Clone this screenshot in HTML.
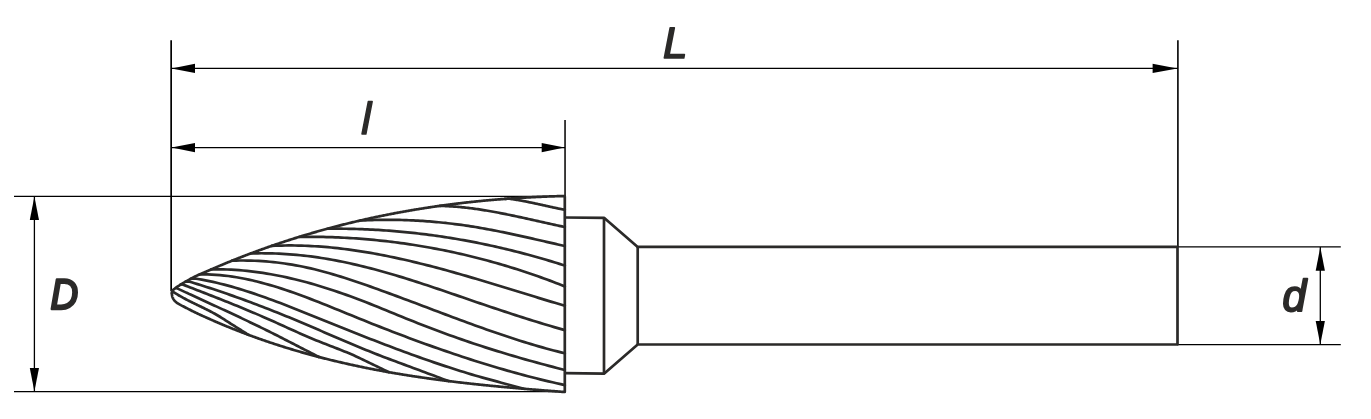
<!DOCTYPE html>
<html><head><meta charset="utf-8"><title>Burr drawing</title>
<style>html,body{margin:0;padding:0;background:#fff;}body{width:1371px;height:419px;overflow:hidden;}svg{display:block;}text{text-rendering:geometricPrecision;}</style>
</head><body>
<svg width="1371" height="419" viewBox="0 0 1371 419">
<line x1="171.15" y1="40.3" x2="171.15" y2="291" stroke="#000" stroke-width="1.7" stroke-linecap="butt"/>
<line x1="565.05" y1="120" x2="565.05" y2="196" stroke="#2b2a29" stroke-width="1.8" stroke-linecap="butt"/>
<line x1="1177.9" y1="40.3" x2="1177.9" y2="247" stroke="#000" stroke-width="1.6" stroke-linecap="butt"/>
<line x1="171" y1="68.4" x2="1177.9" y2="68.4" stroke="#000" stroke-width="1.3" stroke-linecap="butt"/>
<polygon points="171.50,68.40 195.00,63.80 195.00,73.00" fill="#000"/>
<polygon points="1177.40,68.40 1152.60,73.00 1152.60,63.80" fill="#000"/>
<line x1="171" y1="147.6" x2="565" y2="147.6" stroke="#000" stroke-width="1.3" stroke-linecap="butt"/>
<polygon points="171.50,147.60 195.00,143.00 195.00,152.20" fill="#000"/>
<polygon points="564.50,147.60 541.70,152.20 541.70,143.00" fill="#000"/>
<line x1="14" y1="196.3" x2="565" y2="196.3" stroke="#000" stroke-width="1.3" stroke-linecap="butt"/>
<line x1="14" y1="391.7" x2="565" y2="391.7" stroke="#000" stroke-width="1.3" stroke-linecap="butt"/>
<line x1="34.4" y1="196.3" x2="34.4" y2="391.7" stroke="#000" stroke-width="1.3" stroke-linecap="butt"/>
<polygon points="34.40,196.60 39.00,220.10 29.80,220.10" fill="#000"/>
<polygon points="34.40,391.40 29.80,367.90 39.00,367.90" fill="#000"/>
<line x1="1177" y1="246.9" x2="1340.8" y2="246.9" stroke="#000" stroke-width="1.3" stroke-linecap="butt"/>
<line x1="1177" y1="344.7" x2="1340.8" y2="344.7" stroke="#000" stroke-width="1.3" stroke-linecap="butt"/>
<line x1="1320.3" y1="247" x2="1320.3" y2="344.7" stroke="#000" stroke-width="1.3" stroke-linecap="butt"/>
<polygon points="1320.30,247.20 1324.90,270.70 1315.70,270.70" fill="#000"/>
<polygon points="1320.30,344.40 1315.70,320.90 1324.90,320.90" fill="#000"/>
<path d="M564.8,217.5 L604,217.8 L637.7,246.9 L1177.5,246.9 L1177.5,344.5 L637.7,344.5 L604,373.7 L564.8,373.2" fill="none" stroke="#2b2a29" stroke-width="2.7" stroke-linejoin="round" stroke-linecap="butt" />
<path d="M604,217.8 L604,373.7" fill="none" stroke="#2b2a29" stroke-width="2.7" stroke-linejoin="round" stroke-linecap="butt" />
<path d="M637.7,246.9 L637.7,344.5" fill="none" stroke="#2b2a29" stroke-width="2.7" stroke-linejoin="round" stroke-linecap="butt" />
<path d="M564.8,196.3 L564.8,391.9" fill="none" stroke="#2b2a29" stroke-width="2.7" stroke-linejoin="round" stroke-linecap="butt" />
<path d="M171.90,293.30 L171.90,292.78 L171.93,292.26 L171.99,291.74 L172.11,291.24 L172.31,290.79 L172.59,290.39 L172.95,290.03 L173.35,289.70 L173.78,289.39 L174.20,289.08 L174.61,288.77 L175.01,288.46 L175.41,288.15 L175.81,287.84 L176.21,287.54 L176.62,287.24 L177.03,286.95 L177.44,286.66 L177.86,286.37 L178.29,286.09 L178.72,285.81 L179.15,285.54 L179.58,285.27 L180.01,284.99 L180.44,284.72 L180.88,284.46 L181.31,284.19 L181.74,283.92 L182.18,283.66 L182.61,283.40 L183.05,283.13 L183.49,282.87 L183.92,282.61 L184.36,282.36 L184.80,282.10 L185.24,281.84 L185.68,281.59 L186.12,281.33 L186.56,281.08 L187.00,280.83 L187.44,280.58 L187.88,280.33 L188.32,280.08 L188.77,279.83 L189.21,279.58 L189.66,279.34 L190.11,279.09 L190.55,278.85 L191.00,278.61 L191.45,278.37 L191.90,278.14 L192.35,277.90 L192.80,277.67 L193.26,277.44 L193.71,277.21 L194.17,276.98 L194.62,276.76 L195.08,276.53 L195.54,276.31 L196.40,275.90 L197.26,275.50 L198.13,275.10 L199.00,274.71 L199.87,274.32 L200.74,273.94 L201.62,273.55 L202.49,273.17 L203.37,272.80 L204.25,272.42 L205.12,272.04 L206.00,271.66 L206.87,271.29 L207.75,270.91 L208.63,270.53 L209.50,270.15 L210.38,269.77 L211.25,269.39 L212.13,269.01 L213.00,268.63 L213.88,268.25 L214.75,267.87 L215.63,267.50 L216.50,267.12 L217.38,266.75 L218.26,266.37 L219.14,266.00 L220.02,265.63 L220.89,265.26 L221.77,264.89 L222.65,264.52 L223.54,264.16 L224.42,263.79 L225.30,263.43 L226.18,263.07 L227.06,262.71 L227.95,262.35 L228.83,261.99 L229.72,261.63 L230.60,261.27 L231.48,260.92 L232.37,260.56 L233.26,260.21 L234.14,259.85 L235.03,259.50 L235.91,259.15 L236.80,258.80 L237.69,258.45 L238.58,258.10 L239.46,257.75 L240.35,257.40 L241.24,257.06 L242.13,256.71 L243.02,256.37 L243.91,256.02 L244.80,255.68 L245.69,255.34 L246.58,255.00 L247.47,254.66 L248.36,254.32 L249.26,253.99 L250.15,253.65 L251.04,253.32 L251.94,252.98 L252.83,252.65 L253.72,252.32 L254.62,251.99 L255.51,251.66 L256.41,251.33 L257.30,251.00 L258.20,250.67 L259.10,250.34 L259.99,250.02 L260.89,249.70 L261.79,249.37 L262.69,249.05 L263.58,248.73 L264.48,248.41 L265.38,248.09 L266.28,247.77 L267.18,247.46 L268.08,247.14 L268.98,246.82 L269.88,246.51 L270.78,246.20 L271.68,245.89 L272.59,245.57 L273.49,245.26 L274.39,244.96 L275.29,244.65 L276.20,244.34 L277.10,244.03 L278.00,243.73 L278.91,243.43 L279.81,243.12 L280.72,242.82 L281.62,242.52 L282.53,242.22 L283.43,241.92 L284.34,241.62 L285.25,241.33 L286.15,241.03 L287.06,240.74 L287.97,240.44 L288.87,240.15 L289.78,239.86 L290.69,239.57 L291.60,239.28 L292.51,238.99 L293.42,238.70 L294.33,238.41 L295.24,238.13 L296.15,237.84 L297.06,237.56 L297.97,237.28 L298.88,237.00 L299.79,236.71 L300.70,236.44 L301.62,236.16 L302.53,235.88 L303.44,235.60 L304.36,235.33 L305.27,235.05 L306.18,234.78 L307.10,234.51 L308.01,234.23 L308.93,233.96 L309.84,233.69 L310.76,233.43 L311.67,233.16 L312.59,232.89 L313.50,232.63 L314.42,232.36 L315.34,232.10 L316.25,231.84 L317.17,231.57 L318.09,231.31 L319.01,231.05 L319.92,230.80 L320.84,230.54 L321.76,230.28 L322.68,230.03 L323.60,229.77 L324.52,229.52 L325.44,229.27 L326.36,229.02 L327.28,228.76 L328.20,228.52 L329.12,228.27 L330.04,228.02 L330.96,227.77 L331.89,227.53 L332.81,227.28 L333.73,227.04 L334.65,226.80 L335.58,226.56 L336.50,226.32 L337.42,226.08 L338.35,225.84 L339.27,225.60 L340.19,225.37 L341.12,225.13 L342.04,224.90 L342.97,224.66 L343.89,224.43 L344.82,224.20 L345.74,223.97 L346.67,223.74 L347.60,223.51 L348.52,223.29 L349.45,223.06 L350.38,222.83 L351.30,222.61 L352.23,222.39 L353.16,222.16 L354.08,221.94 L355.01,221.72 L355.94,221.50 L356.87,221.29 L357.80,221.07 L358.73,220.85 L359.66,220.64 L360.59,220.42 L361.52,220.21 L362.45,220.00 L363.38,219.79 L364.31,219.58 L365.24,219.37 L366.17,219.16 L367.10,218.95 L368.03,218.74 L368.96,218.54 L369.89,218.34 L370.83,218.13 L371.76,217.93 L372.69,217.73 L373.62,217.53 L374.55,217.33 L375.49,217.13 L376.42,216.93 L377.35,216.74 L378.29,216.54 L379.22,216.35 L380.16,216.15 L381.09,215.96 L382.02,215.77 L382.96,215.58 L383.89,215.39 L384.83,215.20 L385.76,215.01 L386.70,214.83 L387.64,214.64 L388.57,214.46 L389.51,214.27 L390.44,214.09 L391.38,213.91 L392.32,213.73 L393.25,213.55 L394.19,213.37 L395.13,213.19 L396.06,213.02 L397.00,212.84 L397.94,212.66 L398.88,212.49 L399.82,212.32 L400.75,212.15 L401.69,211.97 L402.63,211.80 L403.57,211.64 L404.51,211.47 L405.45,211.30 L406.39,211.13 L407.33,210.97 L408.27,210.80 L409.20,210.64 L410.14,210.48 L411.08,210.32 L412.03,210.16 L412.97,210.00 L413.91,209.84 L414.85,209.68 L415.79,209.53 L416.73,209.37 L417.67,209.22 L418.61,209.06 L419.55,208.91 L420.49,208.76 L421.44,208.61 L422.38,208.46 L423.32,208.31 L424.26,208.16 L425.21,208.01 L426.15,207.87 L427.09,207.72 L428.03,207.58 L428.98,207.43 L429.92,207.29 L430.86,207.15 L431.81,207.01 L432.75,206.87 L433.69,206.73 L434.64,206.59 L435.58,206.46 L436.53,206.32 L437.47,206.19 L438.41,206.05 L439.36,205.92 L440.30,205.79 L441.25,205.66 L442.19,205.52 L443.14,205.40 L444.08,205.27 L445.03,205.14 L445.97,205.01 L446.92,204.89 L447.86,204.76 L448.81,204.64 L449.76,204.52 L450.70,204.39 L451.65,204.27 L452.59,204.15 L453.54,204.03 L454.49,203.91 L455.43,203.80 L456.38,203.68 L457.33,203.57 L458.27,203.45 L459.22,203.34 L460.17,203.22 L461.12,203.11 L462.06,203.00 L463.01,202.89 L463.96,202.78 L464.91,202.67 L465.85,202.57 L466.80,202.46 L467.75,202.35 L468.70,202.25 L469.65,202.14 L470.59,202.04 L471.54,201.94 L472.49,201.84 L473.44,201.74 L474.39,201.64 L475.34,201.54 L476.28,201.44 L477.23,201.34 L478.18,201.25 L479.13,201.15 L480.08,201.06 L481.03,200.97 L481.98,200.87 L482.93,200.78 L483.88,200.69 L484.83,200.60 L485.78,200.51 L486.73,200.42 L487.68,200.34 L488.63,200.25 L489.58,200.16 L490.53,200.08 L491.48,200.00 L492.43,199.91 L493.38,199.83 L494.33,199.75 L495.28,199.67 L496.23,199.59 L497.18,199.51 L498.13,199.43 L499.08,199.36 L500.03,199.28 L500.98,199.20 L501.93,199.13 L502.88,199.06 L503.84,198.98 L504.79,198.91 L505.74,198.84 L506.69,198.77 L507.64,198.70 L508.59,198.63 L509.54,198.56 L510.49,198.50 L511.45,198.43 L512.40,198.37 L513.35,198.30 L514.30,198.24 L515.25,198.18 L516.20,198.11 L517.16,198.05 L518.11,197.99 L519.06,197.93 L520.01,197.87 L520.96,197.82 L521.92,197.76 L522.87,197.70 L523.82,197.65 L524.77,197.59 L525.73,197.54 L526.68,197.49 L527.63,197.43 L528.58,197.38 L529.53,197.33 L530.49,197.28 L531.44,197.23 L532.39,197.18 L533.35,197.14 L534.30,197.09 L535.25,197.04 L536.20,197.00 L537.16,196.96 L538.11,196.91 L539.06,196.87 L540.01,196.83 L540.97,196.79 L541.92,196.75 L542.87,196.71 L543.83,196.67 L544.78,196.63 L545.73,196.59 L546.69,196.55 L547.64,196.52 L548.59,196.48 L549.55,196.45 L550.50,196.42 L551.45,196.38 L552.41,196.35 L553.36,196.32 L554.31,196.29 L555.27,196.26 L556.22,196.23 L557.17,196.21 L558.13,196.18 L559.08,196.16 L560.03,196.13 L560.99,196.10 L561.94,196.08 L562.89,196.06 L563.85,196.03 L564.80,196.01" fill="none" stroke="#2b2a29" stroke-width="2.7" stroke-linejoin="round" stroke-linecap="round" />
<path d="M171.90,293.30 L171.91,293.81 L171.94,294.32 L171.98,294.83 L172.05,295.33 L172.14,295.83 L172.26,296.33 L172.39,296.82 L172.56,297.31 L172.74,297.78 L172.95,298.25 L173.19,298.70 L173.44,299.14 L173.71,299.57 L174.01,299.99 L174.32,300.39 L174.66,300.78 L175.01,301.15 L175.37,301.51 L175.75,301.85 L176.13,302.18 L176.54,302.49 L176.95,302.80 L177.36,303.08 L177.79,303.36 L178.22,303.64 L178.66,303.90 L179.10,304.16 L179.54,304.41 L179.98,304.66 L180.43,304.90 L180.88,305.15 L181.32,305.38 L181.77,305.62 L182.22,305.86 L182.68,306.09 L183.13,306.32 L183.58,306.56 L184.03,306.79 L184.49,307.02 L184.94,307.25 L185.39,307.48 L185.84,307.71 L186.30,307.94 L186.75,308.17 L187.20,308.40 L187.66,308.64 L188.11,308.87 L188.56,309.10 L189.01,309.33 L189.47,309.57 L189.92,309.80 L190.37,310.03 L190.82,310.26 L191.28,310.49 L191.73,310.72 L192.18,310.95 L192.64,311.18 L193.09,311.41 L193.55,311.64 L194.40,312.06 L195.27,312.48 L196.13,312.90 L196.99,313.31 L197.86,313.72 L198.73,314.12 L199.60,314.53 L200.47,314.92 L201.34,315.32 L202.21,315.72 L203.09,316.11 L203.96,316.50 L204.84,316.89 L205.71,317.28 L206.59,317.67 L207.46,318.06 L208.34,318.45 L209.21,318.84 L210.09,319.23 L210.97,319.62 L211.84,320.00 L212.72,320.39 L213.60,320.77 L214.47,321.16 L215.35,321.54 L216.23,321.92 L217.11,322.30 L217.99,322.68 L218.87,323.05 L219.75,323.43 L220.64,323.80 L221.52,324.18 L222.40,324.55 L223.29,324.92 L224.17,325.28 L225.05,325.65 L225.94,326.02 L226.83,326.38 L227.71,326.74 L228.60,327.11 L229.49,327.47 L230.38,327.83 L231.26,328.18 L232.15,328.54 L233.04,328.90 L233.93,329.25 L234.82,329.60 L235.71,329.96 L236.61,330.31 L237.50,330.66 L238.39,331.01 L239.28,331.35 L240.18,331.70 L241.07,332.04 L241.96,332.39 L242.86,332.73 L243.75,333.07 L244.65,333.41 L245.55,333.75 L246.44,334.09 L247.34,334.42 L248.24,334.76 L249.14,335.09 L250.03,335.42 L250.93,335.75 L251.83,336.08 L252.73,336.41 L253.63,336.74 L254.53,337.07 L255.44,337.39 L256.34,337.71 L257.24,338.04 L258.14,338.36 L259.04,338.68 L259.95,339.00 L260.85,339.31 L261.76,339.63 L262.66,339.95 L263.57,340.26 L264.47,340.57 L265.38,340.88 L266.28,341.19 L267.19,341.50 L268.10,341.81 L269.01,342.12 L269.91,342.42 L270.82,342.73 L271.73,343.03 L272.64,343.33 L273.55,343.63 L274.46,343.93 L275.37,344.23 L276.28,344.53 L277.19,344.82 L278.10,345.12 L279.02,345.41 L279.93,345.70 L280.84,345.99 L281.75,346.28 L282.67,346.57 L283.58,346.86 L284.50,347.14 L285.41,347.43 L286.33,347.71 L287.24,347.99 L288.16,348.27 L289.07,348.55 L289.99,348.83 L290.91,349.11 L291.82,349.39 L292.74,349.66 L293.66,349.94 L294.58,350.21 L295.50,350.48 L296.42,350.75 L297.34,351.02 L298.26,351.29 L299.18,351.56 L300.10,351.82 L301.02,352.09 L301.94,352.35 L302.86,352.61 L303.78,352.88 L304.70,353.14 L305.62,353.40 L306.55,353.65 L307.47,353.91 L308.39,354.17 L309.32,354.42 L310.24,354.67 L311.17,354.93 L312.09,355.18 L313.01,355.43 L313.94,355.68 L314.86,355.92 L315.79,356.17 L316.72,356.42 L317.64,356.66 L318.57,356.90 L319.50,357.15 L320.42,357.39 L321.35,357.63 L322.28,357.86 L323.21,358.10 L324.14,358.34 L325.06,358.57 L325.99,358.81 L326.92,359.04 L327.85,359.27 L328.78,359.51 L329.71,359.74 L330.64,359.96 L331.57,360.19 L332.50,360.42 L333.43,360.64 L334.37,360.87 L335.30,361.09 L336.23,361.31 L337.16,361.54 L338.09,361.76 L339.03,361.98 L339.96,362.19 L340.89,362.41 L341.83,362.63 L342.76,362.84 L343.69,363.06 L344.63,363.27 L345.56,363.48 L346.50,363.69 L347.43,363.90 L348.37,364.11 L349.30,364.32 L350.24,364.52 L351.17,364.73 L352.11,364.94 L353.04,365.14 L353.98,365.34 L354.92,365.54 L355.85,365.74 L356.79,365.94 L357.73,366.14 L358.66,366.34 L359.60,366.54 L360.54,366.73 L361.48,366.93 L362.42,367.12 L363.35,367.31 L364.29,367.50 L365.23,367.70 L366.17,367.88 L367.11,368.07 L368.05,368.26 L368.99,368.45 L369.93,368.63 L370.87,368.82 L371.81,369.00 L372.75,369.19 L373.69,369.37 L374.63,369.55 L375.57,369.73 L376.51,369.91 L377.45,370.09 L378.40,370.26 L379.34,370.44 L380.28,370.62 L381.22,370.79 L382.16,370.96 L383.11,371.14 L384.05,371.31 L384.99,371.48 L385.93,371.65 L386.88,371.82 L387.82,371.99 L388.76,372.15 L389.71,372.32 L390.65,372.49 L391.59,372.65 L392.54,372.82 L393.48,372.98 L394.43,373.14 L395.37,373.30 L396.31,373.46 L397.26,373.62 L398.20,373.78 L399.15,373.94 L400.09,374.10 L401.04,374.25 L401.98,374.41 L402.93,374.56 L403.88,374.71 L404.82,374.87 L405.77,375.02 L406.71,375.17 L407.66,375.32 L408.61,375.47 L409.55,375.62 L410.50,375.77 L411.45,375.91 L412.39,376.06 L413.34,376.21 L414.29,376.35 L415.23,376.49 L416.18,376.64 L417.13,376.78 L418.08,376.92 L419.02,377.06 L419.97,377.20 L420.92,377.34 L421.87,377.48 L422.81,377.62 L423.76,377.75 L424.71,377.89 L425.66,378.03 L426.61,378.16 L427.56,378.30 L428.51,378.43 L429.45,378.56 L430.40,378.69 L431.35,378.82 L432.30,378.95 L433.25,379.08 L434.20,379.21 L435.15,379.34 L436.10,379.47 L437.05,379.60 L438.00,379.72 L438.95,379.85 L439.90,379.97 L440.85,380.10 L441.80,380.22 L442.75,380.34 L443.70,380.46 L444.65,380.59 L445.60,380.71 L446.55,380.83 L447.50,380.95 L448.45,381.07 L449.40,381.18 L450.35,381.30 L451.30,381.42 L452.25,381.53 L453.20,381.65 L454.16,381.77 L455.11,381.88 L456.06,381.99 L457.01,382.11 L457.96,382.22 L458.91,382.33 L459.86,382.44 L460.81,382.55 L461.77,382.66 L462.72,382.77 L463.67,382.88 L464.62,382.99 L465.57,383.10 L466.53,383.21 L467.48,383.31 L468.43,383.42 L469.38,383.52 L470.33,383.63 L471.29,383.73 L472.24,383.84 L473.19,383.94 L474.14,384.04 L475.10,384.15 L476.05,384.25 L477.00,384.35 L477.95,384.45 L478.91,384.55 L479.86,384.65 L480.81,384.75 L481.77,384.85 L482.72,384.95 L483.67,385.04 L484.62,385.14 L485.58,385.24 L486.53,385.34 L487.48,385.43 L488.44,385.53 L489.39,385.62 L490.34,385.72 L491.30,385.81 L492.25,385.90 L493.20,386.00 L494.16,386.09 L495.11,386.18 L496.06,386.27 L497.02,386.36 L497.97,386.46 L498.93,386.55 L499.88,386.64 L500.83,386.73 L501.79,386.81 L502.74,386.90 L503.69,386.99 L504.65,387.08 L505.60,387.17 L506.56,387.26 L507.51,387.34 L508.46,387.43 L509.42,387.51 L510.37,387.60 L511.33,387.69 L512.28,387.77 L513.24,387.86 L514.19,387.94 L515.14,388.02 L516.10,388.11 L517.05,388.19 L518.01,388.27 L518.96,388.36 L519.92,388.44 L520.87,388.52 L521.83,388.60 L522.78,388.68 L523.73,388.76 L524.69,388.85 L525.64,388.93 L526.60,389.01 L527.55,389.09 L528.51,389.17 L529.46,389.24 L530.42,389.32 L531.37,389.40 L532.33,389.48 L533.28,389.56 L534.24,389.64 L535.19,389.71 L536.15,389.79 L537.10,389.87 L538.06,389.95 L539.01,390.02 L539.97,390.10 L540.92,390.18 L541.88,390.25 L542.83,390.33 L543.79,390.40 L544.74,390.48 L545.70,390.55 L546.65,390.63 L547.61,390.70 L548.56,390.78 L549.52,390.85 L550.47,390.93 L551.43,391.00 L552.38,391.07 L553.34,391.15 L554.29,391.22 L555.25,391.29 L556.20,391.37 L557.16,391.44 L558.11,391.51 L559.07,391.58 L560.02,391.66 L560.98,391.73 L561.93,391.80 L562.89,391.87 L563.84,391.95 L564.80,392.02" fill="none" stroke="#2b2a29" stroke-width="2.7" stroke-linejoin="round" stroke-linecap="round" />
<path d="M172.60,291.51 L173.45,292.06 L174.30,292.61 L175.16,293.15 L176.01,293.68 L176.86,294.20 L177.71,294.71 L178.57,295.22 L179.42,295.71 L180.27,296.20 L181.12,296.68 L181.98,297.16 L182.83,297.63 L183.68,298.09 L184.53,298.55 L185.39,299.00 L186.24,299.45 L187.09,299.89 L187.94,300.33 L188.79,300.76 L189.65,301.19 L190.50,301.62 L191.35,302.04 L192.20,302.46 L193.06,302.88 L193.91,303.29 L194.76,303.71 L195.61,304.12 L196.47,304.53 L197.32,304.94 L198.17,305.36 L199.02,305.77 L199.87,306.18 L200.73,306.59 L201.58,307.00 L202.43,307.42 L203.28,307.83 L204.14,308.25 L204.99,308.67 L205.84,309.09 L206.69,309.52 L207.55,309.95 L208.40,310.38 L209.25,310.82 L210.10,311.26 L210.96,311.70 L211.81,312.15 L212.66,312.61 L213.51,313.07 L214.36,313.54 L215.22,314.01 L216.07,314.49 L216.92,314.98 L217.77,315.47 L218.63,315.97 L219.48,316.48 L220.33,317.00 L221.18,317.53 L222.04,318.06 L222.89,318.61 L223.74,319.16 L224.59,319.73 L225.44,320.28 L226.30,320.82 L227.15,321.36 L228.00,321.90 L228.85,322.44 L229.71,322.99 L230.56,323.53 L231.41,324.07 L232.26,324.61 L233.12,325.15 L233.97,325.69 L234.82,326.23 L235.67,326.77 L236.53,327.31 L237.38,327.85 L238.23,328.39 L239.08,328.93 L239.93,329.47 L240.79,330.01 L241.64,330.55 L242.49,331.09 L243.34,331.63 L244.20,332.17 L245.05,332.71 L245.90,333.25 L246.75,333.79 L247.61,334.33 L248.46,334.84" fill="none" stroke="#2b2a29" stroke-width="2.7" stroke-linejoin="round" stroke-linecap="round" />
<path d="M176.10,287.90 L177.70,288.64 L179.31,289.39 L180.91,290.13 L182.52,290.88 L184.12,291.62 L185.73,292.36 L187.33,293.10 L188.94,293.85 L190.54,294.59 L192.15,295.32 L193.75,296.06 L195.36,296.80 L196.96,297.54 L198.57,298.28 L200.17,299.02 L201.78,299.75 L203.38,300.49 L204.99,301.23 L206.59,301.96 L208.20,302.70 L209.80,303.44 L211.41,304.18 L213.01,304.92 L214.62,305.65 L216.22,306.39 L217.83,307.13 L219.43,307.87 L221.04,308.61 L222.64,309.36 L224.25,310.10 L225.85,310.84 L227.46,311.59 L229.06,312.33 L230.67,313.08 L232.27,313.83 L233.88,314.58 L235.48,315.33 L237.09,316.08 L238.69,316.84 L240.30,317.59 L241.90,318.35 L243.51,319.11 L245.11,319.87 L246.72,320.63 L248.32,321.39 L249.93,322.16 L251.53,322.93 L253.14,323.70 L254.74,324.47 L256.35,325.25 L257.95,326.03 L259.56,326.81 L261.16,327.59 L262.77,328.37 L264.37,329.16 L265.98,329.95 L267.58,330.75 L269.19,331.54 L270.79,332.34 L272.40,333.14 L274.00,333.95 L275.61,334.76 L277.21,335.57 L278.82,336.39 L280.42,337.20 L282.03,338.03 L283.63,338.85 L285.24,339.68 L286.84,340.51 L288.45,341.33 L290.05,342.16 L291.66,342.98 L293.26,343.81 L294.87,344.63 L296.47,345.46 L298.08,346.28 L299.68,347.11 L301.29,347.93 L302.89,348.76 L304.50,349.58 L306.10,350.41 L307.71,351.23 L309.31,352.06 L310.92,352.88 L312.52,353.70 L314.13,354.53 L315.73,355.35 L317.34,356.18 L318.94,357.00" fill="none" stroke="#2b2a29" stroke-width="2.7" stroke-linejoin="round" stroke-linecap="round" />
<path d="M180.90,284.44 L183.24,284.71 L185.57,285.62 L187.91,286.53 L190.24,287.44 L192.58,288.34 L194.91,289.25 L197.25,290.16 L199.59,291.06 L201.92,291.97 L204.26,292.88 L206.59,293.79 L208.93,294.70 L211.26,295.62 L213.60,296.53 L215.94,297.45 L218.27,298.37 L220.61,299.30 L222.94,300.22 L225.28,301.15 L227.61,302.08 L229.95,303.02 L232.29,303.96 L234.62,304.90 L236.96,305.85 L239.29,306.80 L241.63,307.76 L243.96,308.72 L246.30,309.69 L248.63,310.67 L250.97,311.65 L253.31,312.63 L255.64,313.62 L257.98,314.62 L260.31,315.63 L262.65,316.64 L264.98,317.66 L267.32,318.68 L269.66,319.72 L271.99,320.76 L274.33,321.81 L276.66,322.86 L279.00,323.92 L281.33,324.98 L283.67,326.04 L286.01,327.11 L288.34,328.17 L290.68,329.23 L293.01,330.29 L295.35,331.34 L297.68,332.39 L300.02,333.43 L302.36,334.46 L304.69,335.48 L307.03,336.50 L309.36,337.49 L311.70,338.48 L314.03,339.45 L316.37,340.40 L318.71,341.35 L321.04,342.27 L323.38,343.19 L325.71,344.10 L328.05,345.00 L330.38,345.91 L332.72,346.81 L335.06,347.71 L337.39,348.62 L339.73,349.54 L342.06,350.46 L344.40,351.41 L346.73,352.36 L349.07,353.34 L351.40,354.34 L353.74,355.36 L356.08,356.41 L358.41,357.49 L360.75,358.61 L363.08,359.76 L365.42,360.89 L367.75,362.02 L370.09,363.15 L372.43,364.27 L374.76,365.40 L377.10,366.53 L379.43,367.66 L381.77,368.78 L384.10,369.91 L386.44,371.04 L388.78,372.16" fill="none" stroke="#2b2a29" stroke-width="2.7" stroke-linejoin="round" stroke-linecap="round" />
<path d="M185.70,281.57 L188.65,281.39 L191.61,282.29 L194.56,283.19 L197.51,284.11 L200.47,285.03 L203.42,285.97 L206.37,286.92 L209.33,287.88 L212.28,288.84 L215.23,289.82 L218.19,290.81 L221.14,291.81 L224.09,292.81 L227.04,293.83 L230.00,294.86 L232.95,295.89 L235.90,296.94 L238.86,298.00 L241.81,299.06 L244.76,300.14 L247.72,301.22 L250.67,302.32 L253.62,303.42 L256.58,304.53 L259.53,305.66 L262.48,306.79 L265.44,307.93 L268.39,309.08 L271.34,310.23 L274.30,311.40 L277.25,312.58 L280.20,313.76 L283.16,314.95 L286.11,316.16 L289.06,317.37 L292.01,318.58 L294.97,319.81 L297.92,321.05 L300.87,322.29 L303.83,323.54 L306.78,324.79 L309.73,326.05 L312.69,327.31 L315.64,328.58 L318.59,329.85 L321.55,331.12 L324.50,332.39 L327.45,333.67 L330.41,334.94 L333.36,336.21 L336.31,337.48 L339.27,338.75 L342.22,340.01 L345.17,341.27 L348.13,342.52 L351.08,343.77 L354.03,345.01 L356.98,346.25 L359.94,347.47 L362.89,348.69 L365.84,349.90 L368.80,351.10 L371.75,352.28 L374.70,353.46 L377.66,354.62 L380.61,355.77 L383.56,356.90 L386.52,358.02 L389.47,359.13 L392.42,360.22 L395.38,361.32 L398.33,362.42 L401.28,363.52 L404.24,364.61 L407.19,365.71 L410.14,366.81 L413.10,367.91 L416.05,369.01 L419.00,370.11 L421.96,371.21 L424.91,372.31 L427.86,373.40 L430.81,374.50 L433.77,375.60 L436.72,376.70 L439.67,377.80 L442.63,378.90 L445.58,380.00 L448.53,381.08" fill="none" stroke="#2b2a29" stroke-width="2.7" stroke-linejoin="round" stroke-linecap="round" />
<path d="M190.50,278.88 L194.25,278.42 L197.99,279.02 L201.74,279.67 L205.48,280.37 L209.23,281.13 L212.97,281.94 L216.72,282.79 L220.46,283.70 L224.21,284.64 L227.95,285.64 L231.70,286.67 L235.44,287.74 L239.19,288.85 L242.93,290.00 L246.68,291.18 L250.42,292.40 L254.17,293.64 L257.91,294.92 L261.66,296.22 L265.40,297.55 L269.15,298.91 L272.89,300.28 L276.64,301.68 L280.38,303.10 L284.13,304.54 L287.87,305.99 L291.62,307.45 L295.36,308.93 L299.11,310.42 L302.85,311.91 L306.60,313.42 L310.34,314.93 L314.09,316.44 L317.83,317.96 L321.58,319.47 L325.32,320.99 L329.07,322.50 L332.81,324.01 L336.56,325.52 L340.30,327.03 L344.05,328.53 L347.79,330.03 L351.54,331.52 L355.28,333.01 L359.03,334.49 L362.77,335.97 L366.52,337.44 L370.26,338.90 L374.01,340.36 L377.75,341.81 L381.50,343.25 L385.24,344.68 L388.99,346.11 L392.73,347.52 L396.48,348.93 L400.22,350.32 L403.97,351.71 L407.71,353.08 L411.46,354.44 L415.20,355.79 L418.95,357.13 L422.69,358.46 L426.44,359.77 L430.18,361.07 L433.93,362.35 L437.67,363.62 L441.42,364.88 L445.16,366.12 L448.91,367.34 L452.65,368.55 L456.40,369.74 L460.14,370.92 L463.89,372.08 L467.63,373.21 L471.38,374.34 L475.12,375.44 L478.87,376.52 L482.61,377.58 L486.36,378.63 L490.10,379.65 L493.85,380.66 L497.59,381.67 L501.34,382.69 L505.08,383.70 L508.83,384.72 L512.57,385.73 L516.32,386.75 L520.06,387.76 L523.81,388.77" fill="none" stroke="#2b2a29" stroke-width="2.7" stroke-linejoin="round" stroke-linecap="round" />
<path d="M199.51,274.48 L203.61,274.41 L207.72,274.45 L211.82,274.59 L215.93,274.82 L220.03,275.14 L224.14,275.54 L228.24,276.03 L232.35,276.59 L236.45,277.24 L240.55,277.96 L244.66,278.75 L248.76,279.60 L252.87,280.53 L256.97,281.52 L261.08,282.57 L265.18,283.68 L269.28,284.84 L273.39,286.05 L277.49,287.32 L281.60,288.63 L285.70,289.98 L289.81,291.38 L293.91,292.81 L298.02,294.28 L302.12,295.78 L306.22,297.31 L310.33,298.87 L314.43,300.46 L318.54,302.06 L322.64,303.69 L326.75,305.33 L330.85,306.98 L334.95,308.64 L339.06,310.31 L343.16,311.99 L347.27,313.67 L351.37,315.35 L355.48,317.02 L359.58,318.69 L363.69,320.35 L367.79,321.99 L371.89,323.63 L376.00,325.26 L380.10,326.88 L384.21,328.49 L388.31,330.08 L392.42,331.67 L396.52,333.24 L400.62,334.81 L404.73,336.36 L408.83,337.89 L412.94,339.42 L417.04,340.93 L421.15,342.43 L425.25,343.92 L429.36,345.39 L433.46,346.86 L437.56,348.30 L441.67,349.74 L445.77,351.15 L449.88,352.56 L453.98,353.95 L458.09,355.32 L462.19,356.68 L466.29,358.03 L470.40,359.36 L474.50,360.67 L478.61,361.97 L482.71,363.25 L486.82,364.51 L490.92,365.76 L495.03,366.99 L499.13,368.20 L503.23,369.40 L507.34,370.58 L511.44,371.74 L515.55,372.88 L519.65,374.00 L523.76,375.11 L527.86,376.20 L531.96,377.26 L536.07,378.31 L540.17,379.34 L544.28,380.35 L548.38,381.34 L552.49,382.31 L556.59,383.26 L560.70,384.19 L564.80,385.10" fill="none" stroke="#2b2a29" stroke-width="2.7" stroke-linejoin="round" stroke-linecap="round" />
<path d="M211.24,269.41 L215.21,269.35 L219.19,269.34 L223.16,269.40 L227.13,269.51 L231.10,269.68 L235.08,269.90 L239.05,270.18 L243.02,270.51 L246.99,270.89 L250.97,271.33 L254.94,271.81 L258.91,272.35 L262.88,272.93 L266.86,273.56 L270.83,274.24 L274.80,274.96 L278.77,275.73 L282.75,276.55 L286.72,277.41 L290.69,278.31 L294.66,279.25 L298.64,280.23 L302.61,281.25 L306.58,282.31 L310.55,283.41 L314.53,284.55 L318.50,285.72 L322.47,286.93 L326.45,288.18 L330.42,289.45 L334.39,290.76 L338.36,292.10 L342.34,293.47 L346.31,294.88 L350.28,296.31 L354.25,297.77 L358.23,299.25 L362.20,300.77 L366.17,302.31 L370.14,303.87 L374.12,305.45 L378.09,307.05 L382.06,308.66 L386.03,310.28 L390.01,311.90 L393.98,313.53 L397.95,315.15 L401.92,316.77 L405.90,318.38 L409.87,319.98 L413.84,321.57 L417.81,323.14 L421.79,324.69 L425.76,326.23 L429.73,327.76 L433.70,329.27 L437.68,330.76 L441.65,332.24 L445.62,333.70 L449.60,335.15 L453.57,336.58 L457.54,337.99 L461.51,339.38 L465.49,340.75 L469.46,342.11 L473.43,343.45 L477.40,344.77 L481.38,346.07 L485.35,347.35 L489.32,348.62 L493.29,349.87 L497.27,351.11 L501.24,352.33 L505.21,353.53 L509.18,354.72 L513.16,355.89 L517.13,357.05 L521.10,358.20 L525.07,359.33 L529.05,360.45 L533.02,361.56 L536.99,362.65 L540.96,363.73 L544.94,364.80 L548.91,365.86 L552.88,366.91 L556.85,367.95 L560.83,368.98 L564.80,370.00" fill="none" stroke="#2b2a29" stroke-width="2.7" stroke-linejoin="round" stroke-linecap="round" />
<path d="M232.26,260.65 L235.99,260.56 L239.73,260.51 L243.47,260.50 L247.20,260.54 L250.94,260.63 L254.68,260.76 L258.41,260.93 L262.15,261.16 L265.88,261.43 L269.62,261.74 L273.36,262.11 L277.09,262.52 L280.83,262.98 L284.57,263.49 L288.30,264.04 L292.04,264.65 L295.78,265.30 L299.51,266.00 L303.25,266.76 L306.99,267.56 L310.72,268.41 L314.46,269.30 L318.19,270.24 L321.93,271.21 L325.67,272.23 L329.40,273.28 L333.14,274.36 L336.88,275.48 L340.61,276.63 L344.35,277.80 L348.09,279.00 L351.82,280.23 L355.56,281.48 L359.30,282.74 L363.03,284.03 L366.77,285.33 L370.50,286.64 L374.24,287.97 L377.98,289.31 L381.71,290.65 L385.45,292.01 L389.19,293.37 L392.92,294.75 L396.66,296.13 L400.40,297.51 L404.13,298.91 L407.87,300.30 L411.61,301.71 L415.34,303.11 L419.08,304.52 L422.82,305.93 L426.55,307.34 L430.29,308.75 L434.02,310.16 L437.76,311.56 L441.50,312.97 L445.23,314.38 L448.97,315.78 L452.71,317.17 L456.44,318.56 L460.18,319.95 L463.92,321.33 L467.65,322.70 L471.39,324.06 L475.13,325.41 L478.86,326.76 L482.60,328.09 L486.33,329.42 L490.07,330.73 L493.81,332.03 L497.54,333.31 L501.28,334.58 L505.02,335.84 L508.75,337.08 L512.49,338.30 L516.23,339.51 L519.96,340.70 L523.70,341.87 L527.44,343.02 L531.17,344.15 L534.91,345.26 L538.64,346.34 L542.38,347.41 L546.12,348.45 L549.85,349.47 L553.59,350.46 L557.33,351.43 L561.06,352.37 L564.80,353.28" fill="none" stroke="#2b2a29" stroke-width="2.7" stroke-linejoin="round" stroke-linecap="round" />
<path d="M250.83,253.44 L254.36,253.35 L257.88,253.30 L261.41,253.27 L264.94,253.29 L268.47,253.33 L272.00,253.41 L275.52,253.52 L279.05,253.67 L282.58,253.85 L286.11,254.06 L289.63,254.31 L293.16,254.59 L296.69,254.90 L300.22,255.24 L303.75,255.61 L307.27,256.02 L310.80,256.46 L314.33,256.93 L317.86,257.43 L321.38,257.96 L324.91,258.53 L328.44,259.12 L331.97,259.75 L335.50,260.40 L339.02,261.08 L342.55,261.79 L346.08,262.52 L349.61,263.29 L353.13,264.07 L356.66,264.89 L360.19,265.72 L363.72,266.58 L367.25,267.47 L370.77,268.37 L374.30,269.30 L377.83,270.25 L381.36,271.22 L384.88,272.21 L388.41,273.21 L391.94,274.24 L395.47,275.28 L398.99,276.34 L402.52,277.41 L406.05,278.50 L409.58,279.61 L413.11,280.73 L416.63,281.86 L420.16,283.01 L423.69,284.16 L427.22,285.33 L430.74,286.50 L434.27,287.68 L437.80,288.87 L441.33,290.07 L444.86,291.27 L448.38,292.48 L451.91,293.69 L455.44,294.90 L458.97,296.11 L462.49,297.32 L466.02,298.54 L469.55,299.75 L473.08,300.95 L476.61,302.16 L480.13,303.36 L483.66,304.56 L487.19,305.75 L490.72,306.94 L494.24,308.13 L497.77,309.31 L501.30,310.48 L504.83,311.65 L508.36,312.81 L511.88,313.96 L515.41,315.11 L518.94,316.24 L522.47,317.38 L525.99,318.50 L529.52,319.61 L533.05,320.71 L536.58,321.81 L540.11,322.89 L543.63,323.97 L547.16,325.03 L550.69,326.08 L554.22,327.13 L557.74,328.15 L561.27,329.17 L564.80,330.17" fill="none" stroke="#2b2a29" stroke-width="2.7" stroke-linejoin="round" stroke-linecap="round" />
<path d="M271.94,245.90 L275.23,245.76 L278.52,245.64 L281.81,245.56 L285.10,245.50 L288.40,245.47 L291.69,245.47 L294.98,245.50 L298.27,245.56 L301.56,245.64 L304.85,245.75 L308.14,245.88 L311.43,246.04 L314.72,246.23 L318.01,246.44 L321.30,246.68 L324.59,246.94 L327.88,247.22 L331.17,247.53 L334.46,247.86 L337.75,248.21 L341.04,248.59 L344.33,248.99 L347.62,249.41 L350.92,249.85 L354.21,250.32 L357.50,250.80 L360.79,251.30 L364.08,251.83 L367.37,252.37 L370.66,252.94 L373.95,253.52 L377.24,254.12 L380.53,254.74 L383.82,255.37 L387.11,256.03 L390.40,256.70 L393.69,257.38 L396.98,258.09 L400.27,258.81 L403.56,259.54 L406.85,260.29 L410.15,261.06 L413.44,261.84 L416.73,262.63 L420.02,263.44 L423.31,264.26 L426.60,265.09 L429.89,265.93 L433.18,266.79 L436.47,267.66 L439.76,268.54 L443.05,269.42 L446.34,270.32 L449.63,271.23 L452.92,272.15 L456.21,273.08 L459.50,274.01 L462.79,274.96 L466.08,275.91 L469.37,276.86 L472.67,277.83 L475.96,278.80 L479.25,279.77 L482.54,280.76 L485.83,281.74 L489.12,282.73 L492.41,283.73 L495.70,284.73 L498.99,285.73 L502.28,286.73 L505.57,287.74 L508.86,288.75 L512.15,289.76 L515.44,290.77 L518.73,291.78 L522.02,292.79 L525.31,293.80 L528.60,294.82 L531.89,295.83 L535.19,296.83 L538.48,297.84 L541.77,298.84 L545.06,299.85 L548.35,300.84 L551.64,301.84 L554.93,302.83 L558.22,303.81 L561.51,304.80 L564.80,305.77" fill="none" stroke="#2b2a29" stroke-width="2.7" stroke-linejoin="round" stroke-linecap="round" />
<path d="M299.51,236.83 L302.49,236.80 L305.47,236.78 L308.45,236.78 L311.43,236.79 L314.41,236.81 L317.39,236.85 L320.37,236.90 L323.35,236.96 L326.34,237.03 L329.32,237.12 L332.30,237.21 L335.28,237.33 L338.26,237.45 L341.24,237.59 L344.22,237.73 L347.20,237.90 L350.18,238.07 L353.16,238.26 L356.14,238.46 L359.12,238.68 L362.11,238.90 L365.09,239.14 L368.07,239.40 L371.05,239.66 L374.03,239.94 L377.01,240.23 L379.99,240.54 L382.97,240.86 L385.95,241.19 L388.93,241.53 L391.91,241.89 L394.89,242.26 L397.87,242.65 L400.86,243.05 L403.84,243.46 L406.82,243.89 L409.80,244.32 L412.78,244.78 L415.76,245.24 L418.74,245.72 L421.72,246.21 L424.70,246.72 L427.68,247.24 L430.66,247.77 L433.64,248.32 L436.63,248.88 L439.61,249.46 L442.59,250.05 L445.57,250.65 L448.55,251.26 L451.53,251.89 L454.51,252.54 L457.49,253.20 L460.47,253.87 L463.45,254.55 L466.43,255.25 L469.41,255.97 L472.39,256.70 L475.38,257.44 L478.36,258.19 L481.34,258.96 L484.32,259.75 L487.30,260.55 L490.28,261.36 L493.26,262.19 L496.24,263.03 L499.22,263.88 L502.20,264.75 L505.18,265.64 L508.16,266.54 L511.15,267.45 L514.13,268.38 L517.11,269.32 L520.09,270.28 L523.07,271.25 L526.05,272.23 L529.03,273.23 L532.01,274.25 L534.99,275.28 L537.97,276.32 L540.95,277.38 L543.93,278.45 L546.92,279.54 L549.90,280.64 L552.88,281.76 L555.86,282.90 L558.84,284.04 L561.82,285.21 L564.80,286.38" fill="none" stroke="#2b2a29" stroke-width="2.7" stroke-linejoin="round" stroke-linecap="round" />
<path d="M327.56,228.74 L330.23,228.71 L332.89,228.70 L335.56,228.69 L338.22,228.70 L340.89,228.71 L343.56,228.74 L346.22,228.77 L348.89,228.82 L351.55,228.87 L354.22,228.93 L356.88,229.01 L359.55,229.09 L362.21,229.19 L364.88,229.29 L367.55,229.41 L370.21,229.53 L372.88,229.67 L375.54,229.81 L378.21,229.97 L380.87,230.13 L383.54,230.31 L386.21,230.49 L388.87,230.69 L391.54,230.89 L394.20,231.11 L396.87,231.33 L399.53,231.57 L402.20,231.81 L404.86,232.06 L407.53,232.33 L410.20,232.60 L412.86,232.89 L415.53,233.18 L418.19,233.49 L420.86,233.80 L423.52,234.12 L426.19,234.46 L428.85,234.80 L431.52,235.16 L434.19,235.52 L436.85,235.90 L439.52,236.28 L442.18,236.67 L444.85,237.08 L447.51,237.49 L450.18,237.92 L452.85,238.35 L455.51,238.79 L458.18,239.25 L460.84,239.71 L463.51,240.18 L466.17,240.67 L468.84,241.16 L471.50,241.67 L474.17,242.18 L476.84,242.70 L479.50,243.24 L482.17,243.78 L484.83,244.33 L487.50,244.90 L490.16,245.47 L492.83,246.05 L495.49,246.64 L498.16,247.25 L500.83,247.86 L503.49,248.48 L506.16,249.12 L508.82,249.76 L511.49,250.41 L514.15,251.07 L516.82,251.75 L519.48,252.43 L522.15,253.12 L524.82,253.82 L527.48,254.53 L530.15,255.26 L532.81,255.99 L535.48,256.73 L538.14,257.48 L540.81,258.24 L543.48,259.02 L546.14,259.80 L548.81,260.59 L551.47,261.39 L554.14,262.20 L556.80,263.02 L559.47,263.85 L562.13,264.69 L564.80,265.55" fill="none" stroke="#2b2a29" stroke-width="2.7" stroke-linejoin="round" stroke-linecap="round" />
<path d="M360.70,220.49 L362.99,220.38 L365.29,220.28 L367.58,220.19 L369.87,220.11 L372.17,220.04 L374.46,219.98 L376.75,219.93 L379.05,219.89 L381.34,219.86 L383.63,219.84 L385.93,219.83 L388.22,219.82 L390.51,219.83 L392.80,219.85 L395.10,219.88 L397.39,219.91 L399.68,219.96 L401.98,220.02 L404.27,220.08 L406.56,220.16 L408.86,220.25 L411.15,220.34 L413.44,220.45 L415.74,220.56 L418.03,220.69 L420.32,220.82 L422.62,220.97 L424.91,221.12 L427.20,221.29 L429.50,221.46 L431.79,221.65 L434.08,221.84 L436.38,222.04 L438.67,222.26 L440.96,222.48 L443.26,222.72 L445.55,222.96 L447.84,223.22 L450.14,223.48 L452.43,223.75 L454.72,224.04 L457.02,224.33 L459.31,224.64 L461.60,224.95 L463.90,225.27 L466.19,225.61 L468.48,225.95 L470.78,226.31 L473.07,226.67 L475.36,227.04 L477.66,227.43 L479.95,227.82 L482.24,228.22 L484.54,228.63 L486.83,229.05 L489.12,229.47 L491.42,229.91 L493.71,230.35 L496.00,230.80 L498.30,231.25 L500.59,231.71 L502.88,232.18 L505.18,232.65 L507.47,233.13 L509.76,233.61 L512.05,234.10 L514.35,234.59 L516.64,235.09 L518.93,235.59 L521.23,236.10 L523.52,236.61 L525.81,237.12 L528.11,237.64 L530.40,238.15 L532.69,238.67 L534.99,239.20 L537.28,239.72 L539.57,240.25 L541.87,240.77 L544.16,241.30 L546.45,241.83 L548.75,242.36 L551.04,242.88 L553.33,243.41 L555.63,243.94 L557.92,244.47 L560.21,244.99 L562.51,245.51 L564.80,246.04" fill="none" stroke="#2b2a29" stroke-width="2.7" stroke-linejoin="round" stroke-linecap="round" />
<path d="M440.00,205.90 L441.40,205.93 L442.80,205.97 L444.21,206.01 L445.61,206.07 L447.01,206.13 L448.41,206.20 L449.82,206.28 L451.22,206.36 L452.62,206.45 L454.02,206.55 L455.42,206.66 L456.83,206.77 L458.23,206.89 L459.63,207.01 L461.03,207.15 L462.44,207.29 L463.84,207.43 L465.24,207.58 L466.64,207.74 L468.04,207.90 L469.45,208.07 L470.85,208.25 L472.25,208.43 L473.65,208.62 L475.06,208.81 L476.46,209.01 L477.86,209.21 L479.26,209.42 L480.67,209.63 L482.07,209.85 L483.47,210.07 L484.87,210.30 L486.27,210.53 L487.68,210.76 L489.08,211.00 L490.48,211.25 L491.88,211.49 L493.29,211.75 L494.69,212.00 L496.09,212.26 L497.49,212.52 L498.89,212.79 L500.30,213.06 L501.70,213.33 L503.10,213.61 L504.50,213.88 L505.91,214.17 L507.31,214.45 L508.71,214.74 L510.11,215.03 L511.51,215.32 L512.92,215.61 L514.32,215.91 L515.72,216.21 L517.12,216.51 L518.53,216.81 L519.93,217.11 L521.33,217.42 L522.73,217.72 L524.13,218.03 L525.54,218.34 L526.94,218.65 L528.34,218.96 L529.74,219.27 L531.15,219.58 L532.55,219.90 L533.95,220.21 L535.35,220.53 L536.76,220.84 L538.16,221.15 L539.56,221.47 L540.96,221.78 L542.36,222.10 L543.77,222.41 L545.17,222.72 L546.57,223.04 L547.97,223.35 L549.38,223.66 L550.78,223.97 L552.18,224.28 L553.58,224.59 L554.98,224.90 L556.39,225.20 L557.79,225.51 L559.19,225.81 L560.59,226.11 L562.00,226.41 L563.40,226.71 L564.80,227.00" fill="none" stroke="#2b2a29" stroke-width="2.7" stroke-linejoin="round" stroke-linecap="round" />
<path d="M505.00,198.90 L505.67,198.85 L506.34,198.80 L507.02,198.75 L507.69,198.70 L508.36,198.65 L509.03,198.69 L509.70,198.78 L510.38,198.88 L511.05,198.97 L511.72,199.07 L512.39,199.17 L513.06,199.27 L513.73,199.37 L514.41,199.48 L515.08,199.59 L515.75,199.69 L516.42,199.81 L517.09,199.92 L517.77,200.03 L518.44,200.15 L519.11,200.27 L519.78,200.38 L520.45,200.51 L521.13,200.63 L521.80,200.75 L522.47,200.88 L523.14,201.00 L523.81,201.13 L524.49,201.26 L525.16,201.39 L525.83,201.52 L526.50,201.66 L527.17,201.79 L527.84,201.92 L528.52,202.06 L529.19,202.20 L529.86,202.34 L530.53,202.48 L531.20,202.62 L531.88,202.76 L532.55,202.90 L533.22,203.04 L533.89,203.18 L534.56,203.33 L535.24,203.47 L535.91,203.62 L536.58,203.76 L537.25,203.91 L537.92,204.05 L538.60,204.20 L539.27,204.35 L539.94,204.50 L540.61,204.64 L541.28,204.79 L541.96,204.94 L542.63,205.09 L543.30,205.24 L543.97,205.39 L544.64,205.54 L545.31,205.68 L545.99,205.83 L546.66,205.98 L547.33,206.13 L548.00,206.28 L548.67,206.43 L549.35,206.57 L550.02,206.72 L550.69,206.87 L551.36,207.01 L552.03,207.16 L552.71,207.31 L553.38,207.45 L554.05,207.60 L554.72,207.74 L555.39,207.88 L556.07,208.03 L556.74,208.17 L557.41,208.31 L558.08,208.45 L558.75,208.59 L559.42,208.73 L560.10,208.87 L560.77,209.00 L561.44,209.14 L562.11,209.27 L562.78,209.41 L563.46,209.54 L564.13,209.67 L564.80,209.80" fill="none" stroke="#2b2a29" stroke-width="2.7" stroke-linejoin="round" stroke-linecap="round" />
<g opacity="0.999"><text transform="translate(663.0,57.9) scale(1.0,1)" font-family="'Liberation Sans',sans-serif" font-style="italic" font-size="44.0" fill="#2b2a29" stroke="#2b2a29" stroke-width="1.6" stroke-linejoin="round">L</text>
<text transform="translate(361.2,133.6) scale(1.0,1)" font-family="'Liberation Sans',sans-serif" font-style="italic" font-size="44.8" fill="#2b2a29" stroke="#2b2a29" stroke-width="1.4" stroke-linejoin="round">l</text>
<text transform="translate(50.5,308.9) scale(0.89,1)" font-family="'Liberation Sans',sans-serif" font-style="italic" font-size="43.0" fill="#2b2a29" stroke="#2b2a29" stroke-width="2.5" stroke-linejoin="round">D</text>
<text transform="translate(1282.5,311.4) scale(0.96,1)" font-family="'Liberation Sans',sans-serif" font-style="italic" font-size="44.4" fill="#2b2a29" stroke="#2b2a29" stroke-width="2.0" stroke-linejoin="round">d</text>
</g></svg>
</body></html>
